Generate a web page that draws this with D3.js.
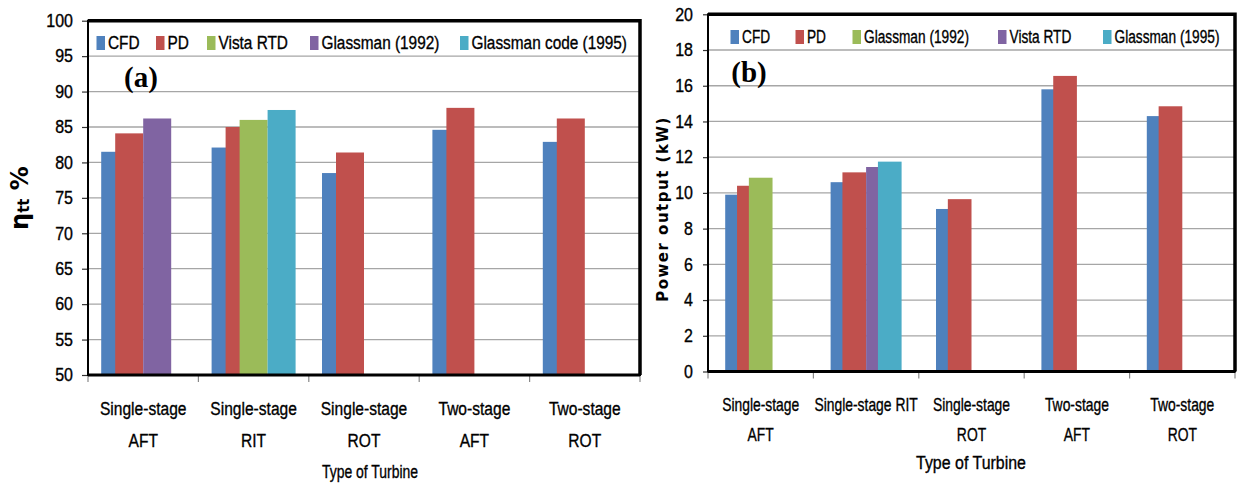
<!DOCTYPE html>
<html>
<head>
<meta charset="utf-8">
<script src="https://d3js.org/d3.v7.min.js"></script>
<style>
  body { margin: 0; background: #fff; }
  svg text { font-family: "Liberation Sans", Arial, sans-serif; fill: #000; }
  svg text.narrow { stroke: #000; stroke-width: 0.35px; }
</style>
</head>
<body>
<div id="chart"></div>
<script>

// ---- data ----

var categoriesA = ["Single-stage|AFT", "Single-stage|RIT", "Single-stage|ROT", "Two-stage|AFT", "Two-stage|ROT"];
var seriesA = ["CFD", "PD", "Vista RTD", "Glassman (1992)", "Glassman code (1995)"];
var cfdA = [81.5, 82.1, 78.5, 84.6, 82.9];
var pdA = [84.1, 85.0, 81.4, 87.7, 86.2];
var vistaA = [null, 86.0, null, null, null];
var glassman92A = [86.2, null, null, null, null];
var glassman95A = [null, 87.4, null, null, null];
var ticksA = [50, 55, 60, 65, 70, 75, 80, 85, 90, 95, 100];

var categoriesB = ["Single-stage|AFT", "Single-stage RIT", "Single-stage|ROT", "Two-stage|AFT", "Two-stage|ROT"];
var seriesB = ["CFD", "PD", "Glassman (1992)", "Vista RTD", "Glassman (1995)"];
var cfdB = [9.9, 10.6, 9.1, 15.8, 14.3];
var pdB = [10.4, 11.15, 9.65, 16.55, 14.85];
var glassman92B = [10.85, null, null, null, null];
var vistaB = [null, 11.45, null, null, null];
var glassman95B = [null, 11.75, null, null, null];
var ticksB = [0, 2, 4, 6, 8, 10, 12, 14, 16, 18, 20];

var colors = ["#4f81bd", "#c0504d", "#9bbb59", "#8064a2", "#4bacc6"];

var svg = d3.select("#chart").append("svg")
    .attr("width", 1238)
    .attr("height", 488);

// the original uses a narrow face; squeeze text horizontally around its anchor x
function squeeze(sel, f, ax) {
    sel.each(function(){
        var cx = (ax === undefined) ? (+this.getAttribute("x") || 0) : ax;
        d3.select(this).attr("transform",
            "translate(" + cx + ",0) scale(" + f + ",1) translate(" + (-cx) + ",0)");
    });
}

function drawPanel(cfg) {

    var g = svg.append("g");

    var x = d3.scaleBand()
        .domain(cfg.categories)
        .range([cfg.left, cfg.right])
        .padding(0);

    var y = d3.scaleLinear()
        .domain([cfg.ticks[0], cfg.ticks[cfg.ticks.length - 1]])
        .range([cfg.bottom, cfg.top]);

    // grid
    g.selectAll("line.grid")
        .data(cfg.ticks.slice(1))
        .enter().append("line")
            .attr("class", "grid")
            .attr("x1", cfg.left).attr("x2", cfg.right)
            .attr("y1", function(d){ return y(d); })
            .attr("y2", function(d){ return y(d); })
            .attr("stroke", "#a6a6a6")
            .attr("stroke-width", 1.3);

    // bars, 50% overlap like the excel original
    var bw = x.bandwidth(),
        barW = bw * cfg.barFrac,
        step = barW / 2,
        groupW = barW + step * (cfg.values.length - 1),
        offset = (bw - groupW) / 2;

    cfg.values.forEach(function(vals, si){
        g.selectAll("rect.s" + si)
            .data(vals.map(function(v, i){ return { v: v, c: cfg.categories[i] }; })
                .filter(function(d){ return d.v !== null; }))
            .enter().append("rect")
                .attr("class", "s" + si)
                .attr("x", function(d){ return x(d.c) + offset + si * step; })
                .attr("y", function(d){ return y(d.v); })
                .attr("width", barW)
                .attr("height", function(d){ return cfg.bottom - y(d.v); })
                .attr("fill", colors[si]);
    });

    // y axis
    var yAxis = d3.axisLeft(y)
        .tickValues(cfg.ticks)
        .tickSize(cfg.tickLen)
        .tickPadding(cfg.tickPad)
        .tickFormat(d3.format("d"));

    var ya = g.append("g")
        .attr("transform", "translate(" + cfg.left + ",0)")
        .call(yAxis);
    ya.select(".domain").remove();
    ya.selectAll("line").attr("stroke", "#333").attr("stroke-width", 1.2);
    ya.selectAll("text")
        .attr("class", "narrow")
        .style("font-size", "18px")
        .style("font-family", "'Liberation Sans', sans-serif")
        .attr("fill", "#000")
        .call(squeeze, 0.89);

    // x ticks on band edges
    var edges = cfg.categories.map(function(c){ return x(c); }).concat([cfg.right]);
    g.selectAll("line.xtick")
        .data(edges)
        .enter().append("line")
            .attr("x1", function(d){ return d; })
            .attr("x2", function(d){ return d; })
            .attr("y1", cfg.bottom)
            .attr("y2", cfg.bottom + 7)
            .attr("stroke", "#888")
            .attr("stroke-width", 1.2);

    // category labels, "|" splits lines
    cfg.categories.forEach(function(c){
        var cx = x(c) + bw / 2;
        var t = g.append("text")
            .attr("class", "narrow")
            .attr("text-anchor", "middle")
            .style("font-size", "19px");
        c.split("|").forEach(function(line, li){
            t.append("tspan")
                .attr("x", cx)
                .attr("y", cfg.labelY + li * cfg.lineGap)
                .text(line);
        });
        t.call(squeeze, cfg.catSqueeze, cx);
    });

    // frame
    g.append("rect")
        .attr("x", cfg.left).attr("y", cfg.top)
        .attr("width", cfg.right - cfg.left)
        .attr("height", cfg.bottom - cfg.top)
        .attr("fill", "none")
        .attr("stroke", "#000")
        .attr("stroke-width", 2);
    g.append("path")
        .attr("d", "M" + cfg.left + "," + cfg.top + "H" + cfg.right + "V" + cfg.bottom)
        .attr("fill", "none")
        .attr("stroke", "#000")
        .attr("stroke-width", 3.5);
    g.append("line")
        .attr("x1", cfg.left).attr("x2", cfg.right)
        .attr("y1", cfg.bottom).attr("y2", cfg.bottom)
        .attr("stroke", "#000")
        .attr("stroke-width", 3);

    // legend
    cfg.series.forEach(function(s, i){
        var lx = cfg.legendX[i];
        g.append("rect")
            .attr("x", lx).attr("y", cfg.legendY - 7)
            .attr("width", 8.5).attr("height", 14)
            .attr("fill", colors[i]);
        g.append("text")
            .attr("class", "narrow")
            .attr("x", lx + 11.5)
            .attr("y", cfg.legendY + 6.5)
            .style("font-size", cfg.legendSize + "px")
            .text(s)
            .call(squeeze, cfg.legendSqueeze);
    });

    // panel tag
    g.append("text")
        .attr("x", cfg.tagX).attr("y", cfg.tagY)
        .attr("text-anchor", "middle")
        .style("font-family", "'Liberation Serif', serif")
        .style("font-weight", "bold")
        .style("font-size", "29px")
        .text(cfg.tag);

    // x title
    g.append("text")
        .attr("class", "narrow")
        .attr("x", cfg.xTitleX).attr("y", cfg.xTitleY)
        .attr("text-anchor", "middle")
        .style("font-size", "19px")
        .text("Type of Turbine")
        .call(squeeze, cfg.titleSqueeze);

    return g;
}

var gA = drawPanel({
    categories: categoriesA,
    series: seriesA,
    values: [cfdA, pdA, vistaA, glassman92A, glassman95A],
    ticks: ticksA,
    left: 88, right: 640, top: 20.7, bottom: 375,
    barFrac: 0.2536,
    tickLen: 6, tickPad: 9,
    labelY: 415, lineGap: 32, catSqueeze: 0.82,
    legendY: 43, legendSize: 19, legendSqueeze: 0.81,
    legendX: [96.5, 156, 207, 310, 460],
    tag: "(a)", tagX: 141, tagY: 87,
    xTitleX: 370, xTitleY: 478, titleSqueeze: 0.735
});

var gB = drawPanel({
    categories: categoriesB,
    series: seriesB,
    values: [cfdB, pdB, glassman92B, vistaB, glassman95B],
    ticks: ticksB,
    left: 708, right: 1235, top: 14.3, bottom: 371.5,
    barFrac: 0.2245,
    tickLen: 5, tickPad: 10,
    labelY: 411.5, lineGap: 30, catSqueeze: 0.73,
    legendY: 37, legendSize: 18.5, legendSqueeze: 0.74,
    legendX: [730.5, 795.5, 852.5, 998, 1103],
    tag: "(b)", tagX: 749, tagY: 82,
    xTitleX: 971, xTitleY: 469, titleSqueeze: 0.84
});

// y titles
var tA = gA.append("text")
    .attr("transform", "translate(28,198) rotate(-90)")
    .attr("text-anchor", "middle")
    .style("font-family", "'DejaVu Sans', sans-serif")
    .style("font-weight", "bold")
    .style("font-size", "24px");
tA.append("tspan").text("η");
tA.append("tspan").attr("dy", 1).style("font-size", "15px").text("tt");
tA.append("tspan").attr("dy", -1).text(" %");

gB.append("text")
    .attr("transform", "translate(668,209) rotate(-90)")
    .attr("text-anchor", "middle")
    .style("font-family", "'DejaVu Sans', sans-serif")
    .style("font-weight", "bold")
    .style("font-size", "15px")
    .style("letter-spacing", "1.5px")
    .text("Power output (kW)");

</script>
</body>
</html>
